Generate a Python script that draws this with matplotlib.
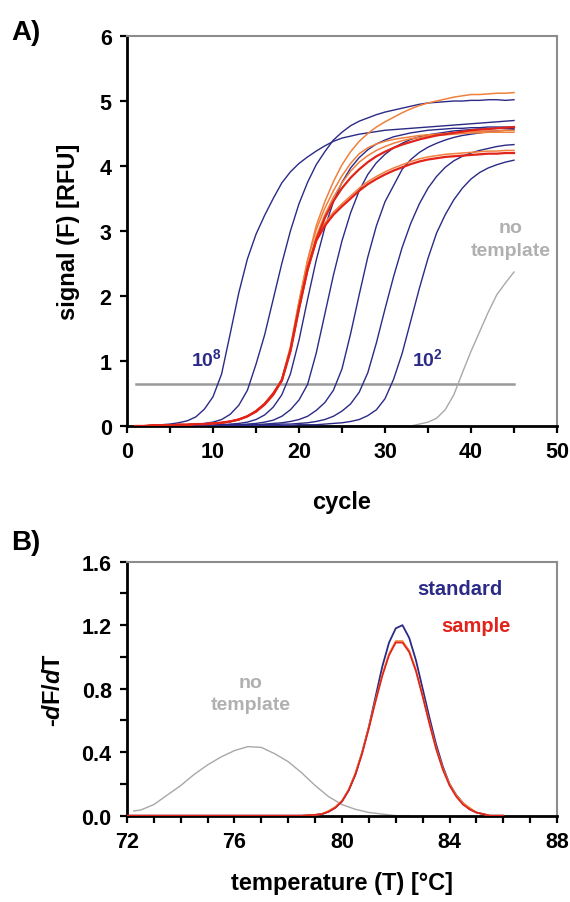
import matplotlib
matplotlib.use("Agg")
import matplotlib.pyplot as plt
from matplotlib.ticker import MultipleLocator, FixedLocator

plt.rcParams["font.family"] = ["Liberation Sans", "DejaVu Sans"]
plt.rcParams["font.weight"] = "bold"
plt.rcParams["mathtext.fontset"] = "custom"
plt.rcParams["mathtext.rm"] = "Liberation Sans:bold"
plt.rcParams["mathtext.it"] = "Liberation Sans:bold:italic"
plt.rcParams["mathtext.bf"] = "Liberation Sans:bold"

# =========================
# DATOS - A) amplificación
# =========================
ciclos = list(range(1, 46))

std_1e8 = [0.00, 0.00, 0.01, 0.02, 0.03, 0.05, 0.08, 0.14, 0.26, 0.45,
           0.80, 1.42, 2.05, 2.57, 2.95, 3.24, 3.50, 3.74, 3.91, 4.04,
           4.14, 4.23, 4.31, 4.38, 4.43, 4.46, 4.49, 4.51, 4.53, 4.55,
           4.56, 4.57, 4.58, 4.59, 4.60, 4.61, 4.62, 4.63, 4.64, 4.65,
           4.66, 4.67, 4.68, 4.69, 4.70]
std_1e7 = [0.00, 0.00, 0.00, 0.01, 0.01, 0.02, 0.02, 0.03, 0.04, 0.06,
           0.10, 0.18, 0.32, 0.55, 0.95, 1.40, 1.95, 2.50, 3.00, 3.42,
           3.75, 4.02, 4.22, 4.40, 4.52, 4.62, 4.69, 4.74, 4.79, 4.83,
           4.86, 4.89, 4.92, 4.95, 4.97, 4.98, 4.99, 5.00, 5.00, 5.01,
           5.01, 5.02, 5.02, 5.01, 5.02]
std_1e6 = [0.00, 0.00, 0.00, 0.00, 0.00, 0.01, 0.01, 0.01, 0.01, 0.02,
           0.02, 0.03, 0.04, 0.06, 0.10, 0.17, 0.29, 0.48, 0.80, 1.32,
           1.95, 2.55, 3.05, 3.45, 3.75, 3.97, 4.13, 4.25, 4.34, 4.40,
           4.45, 4.48, 4.51, 4.53, 4.55, 4.56, 4.57, 4.58, 4.58, 4.59,
           4.59, 4.60, 4.60, 4.60, 4.60]
std_1e5 = [0.00, 0.00, 0.00, 0.00, 0.00, 0.00, 0.01, 0.01, 0.01, 0.01,
           0.01, 0.02, 0.02, 0.03, 0.04, 0.06, 0.09, 0.15, 0.25, 0.40,
           0.64, 1.12, 1.72, 2.32, 2.85, 3.28, 3.62, 3.87, 4.05, 4.18,
           4.28, 4.35, 4.41, 4.45, 4.48, 4.50, 4.52, 4.54, 4.55, 4.56,
           4.57, 4.57, 4.58, 4.58, 4.58]
std_1e4 = [0.00, 0.00, 0.00, 0.00, 0.00, 0.00, 0.01, 0.01, 0.01, 0.01,
           0.01, 0.01, 0.01, 0.02, 0.02, 0.03, 0.04, 0.05, 0.07, 0.10,
           0.15, 0.24, 0.36, 0.55, 0.88, 1.42, 2.02, 2.60, 3.08, 3.45,
           3.70, 3.95, 4.10, 4.21, 4.29, 4.35, 4.40, 4.44, 4.47, 4.49,
           4.51, 4.53, 4.54, 4.55, 4.56]
std_1e3 = [0.00, 0.00, 0.00, 0.00, 0.00, 0.00, 0.00, 0.00, 0.01, 0.01,
           0.01, 0.01, 0.01, 0.01, 0.01, 0.02, 0.02, 0.03, 0.03, 0.04,
           0.05, 0.07, 0.10, 0.15, 0.23, 0.34, 0.52, 0.82, 1.28, 1.80,
           2.30, 2.75, 3.12, 3.42, 3.66, 3.84, 3.98, 4.08, 4.15, 4.20,
           4.24, 4.27, 4.30, 4.32, 4.33]
std_1e2 = [0.00, 0.00, 0.00, 0.00, 0.00, 0.00, 0.00, 0.00, 0.00, 0.00,
           0.01, 0.01, 0.01, 0.01, 0.01, 0.01, 0.01, 0.01, 0.01, 0.02,
           0.02, 0.02, 0.03, 0.04, 0.05, 0.07, 0.10, 0.16, 0.25, 0.42,
           0.72, 1.12, 1.62, 2.12, 2.58, 2.97, 3.25, 3.48, 3.66, 3.80,
           3.90, 3.97, 4.02, 4.06, 4.09]

muestra_1 = [0.00, 0.00, 0.01, 0.01, 0.01, 0.02, 0.02, 0.03, 0.03, 0.04,
             0.05, 0.07, 0.10, 0.15, 0.23, 0.35, 0.50, 0.72, 1.20, 1.90,
             2.55, 3.08, 3.45, 3.76, 4.02, 4.22, 4.38, 4.50, 4.60, 4.68,
             4.75, 4.82, 4.88, 4.93, 4.97, 5.00, 5.03, 5.06, 5.08, 5.10,
             5.10, 5.11, 5.12, 5.12, 5.13]
muestra_2 = [0.00, 0.00, 0.01, 0.01, 0.01, 0.02, 0.02, 0.03, 0.03, 0.04,
             0.05, 0.07, 0.10, 0.15, 0.23, 0.34, 0.50, 0.72, 1.22, 1.92,
             2.55, 3.02, 3.35, 3.62, 3.85, 4.04, 4.19, 4.28, 4.34, 4.38,
             4.41, 4.43, 4.45, 4.47, 4.48, 4.49, 4.50, 4.51, 4.52, 4.53,
             4.53, 4.54, 4.54, 4.55, 4.55]
muestra_3 = [0.00, 0.00, 0.01, 0.01, 0.01, 0.02, 0.02, 0.03, 0.03, 0.04,
             0.05, 0.07, 0.10, 0.15, 0.22, 0.33, 0.48, 0.70, 1.18, 1.85,
             2.45, 2.92, 3.25, 3.52, 3.74, 3.92, 4.06, 4.16, 4.24, 4.30,
             4.35, 4.39, 4.42, 4.44, 4.46, 4.47, 4.48, 4.49, 4.50, 4.51,
             4.51, 4.52, 4.52, 4.52, 4.52]
muestra_4 = [0.00, 0.00, 0.01, 0.01, 0.01, 0.02, 0.02, 0.03, 0.03, 0.04,
             0.05, 0.07, 0.10, 0.15, 0.22, 0.33, 0.48, 0.70, 1.16, 1.82,
             2.40, 2.86, 3.20, 3.46, 3.66, 3.82, 3.95, 4.06, 4.15, 4.22,
             4.28, 4.33, 4.37, 4.41, 4.44, 4.47, 4.49, 4.51, 4.53, 4.55,
             4.56, 4.57, 4.58, 4.59, 4.60]
muestra_5 = [0.00, 0.00, 0.01, 0.01, 0.01, 0.02, 0.02, 0.03, 0.03, 0.04,
             0.05, 0.07, 0.10, 0.15, 0.23, 0.34, 0.50, 0.70, 1.15, 1.80,
             2.42, 2.85, 3.08, 3.25, 3.38, 3.50, 3.62, 3.72, 3.80, 3.87,
             3.93, 3.98, 4.03, 4.07, 4.10, 4.12, 4.14, 4.15, 4.16, 4.17,
             4.18, 4.19, 4.19, 4.20, 4.20]
muestra_6 = [0.00, 0.00, 0.01, 0.01, 0.01, 0.02, 0.02, 0.03, 0.03, 0.04,
             0.05, 0.07, 0.10, 0.15, 0.23, 0.34, 0.50, 0.71, 1.17, 1.83,
             2.45, 2.88, 3.12, 3.29, 3.42, 3.54, 3.66, 3.76, 3.84, 3.91,
             3.97, 4.02, 4.07, 4.11, 4.14, 4.16, 4.18, 4.19, 4.20, 4.21,
             4.22, 4.23, 4.23, 4.24, 4.24]

ciclos_ntc = [1, 10, 20, 30, 33, 34, 35, 36, 37, 38, 39, 40, 41, 42, 43, 44, 45]
sin_molde_A = [0.00, 0.00, 0.00, 0.00, 0.00, 0.03, 0.06, 0.12, 0.25, 0.48,
               0.82, 1.15, 1.45, 1.75, 2.02, 2.20, 2.37]

umbral = 0.64

# =========================
# DATOS - B) curva de fusión
# =========================
temp_pico = [72.0, 78.0, 78.5, 79.0, 79.25, 79.5, 79.75, 80.0, 80.25, 80.5,
             80.75, 81.0, 81.25, 81.5, 81.75, 82.0, 82.25, 82.5, 82.75, 83.0,
             83.25, 83.5, 83.75, 84.0, 84.25, 84.5, 84.75, 85.0, 85.25, 85.5,
             86.0]
estandar_B = [0.0, 0.0, 0.0, 0.005, 0.01, 0.025, 0.05, 0.09, 0.16, 0.26,
              0.40, 0.56, 0.75, 0.94, 1.09, 1.18, 1.20, 1.12, 0.98, 0.80,
              0.62, 0.45, 0.31, 0.20, 0.13, 0.08, 0.04, 0.02, 0.01, 0.0,
              0.0]
muestra_B1 = [0.0, 0.0, 0.0, 0.005, 0.01, 0.025, 0.05, 0.09, 0.16, 0.26,
              0.39, 0.55, 0.72, 0.88, 1.01, 1.09, 1.09, 1.03, 0.91, 0.75,
              0.58, 0.42, 0.29, 0.19, 0.12, 0.07, 0.04, 0.02, 0.01, 0.0,
              0.0]
muestra_B2 = [0.0, 0.0, 0.0, 0.005, 0.01, 0.03, 0.055, 0.095, 0.165, 0.27,
              0.40, 0.56, 0.73, 0.89, 1.02, 1.10, 1.10, 1.04, 0.92, 0.76,
              0.59, 0.43, 0.30, 0.20, 0.13, 0.08, 0.05, 0.02, 0.01, 0.0,
              0.0]

temp_ntc = [72.25, 72.5, 73.0, 73.5, 74.0, 74.5, 75.0, 75.5, 76.0, 76.5,
            77.0, 77.5, 78.0, 78.5, 79.0, 79.5, 80.0, 80.5, 81.0, 81.5,
            82.0, 82.5]
sin_molde_B = [0.03, 0.035, 0.07, 0.13, 0.19, 0.26, 0.32, 0.37, 0.41, 0.435,
               0.43, 0.39, 0.34, 0.27, 0.19, 0.12, 0.07, 0.04, 0.02, 0.01,
               0.0, 0.0]

# =========================
# COLORES
# =========================
azul = "#2B2A86"
rojo = "#E2231A"
naranja = "#F0803C"
gris = "#A8A8A8"

fig = plt.figure(figsize=(5.70, 9.03), dpi=100)
axA = fig.add_axes([0.2228, 0.5271, 0.7544, 0.4319])
axB = fig.add_axes([0.2228, 0.0956, 0.7544, 0.2813])


def estilo_ejes(ax):
    for lado in ["left", "bottom"]:
        ax.spines[lado].set_linewidth(2.0)
        ax.spines[lado].set_color("black")
    for lado in ["top", "right"]:
        ax.spines[lado].set_linewidth(1.5)
        ax.spines[lado].set_color("#8C8C8C")
    ax.tick_params(which="both", direction="out", length=5, width=1.6,
                   labelsize=15.5, pad=6, top=False, right=False)
    for lab in ax.get_xticklabels() + ax.get_yticklabels():
        lab.set_fontweight("bold")


# ---------- A ----------
axA.plot([1, 45], [umbral, umbral], color="#9A9A9A", lw=1.8, zorder=1)
axA.plot(ciclos_ntc, sin_molde_A, color=gris, lw=1.0, zorder=2)

for serie in [std_1e8, std_1e7, std_1e6, std_1e5, std_1e4, std_1e3, std_1e2]:
    axA.plot(ciclos, serie, color=azul, lw=1.0, zorder=3)

for serie in [muestra_1, muestra_2, muestra_3, muestra_6]:
    axA.plot(ciclos, serie, color=naranja, lw=1.1, zorder=4)
for serie in [muestra_4, muestra_5]:
    axA.plot(ciclos, serie, color=rojo, lw=1.6, zorder=5)

axA.set_xlim(0, 50)
axA.set_ylim(0, 6)
axA.xaxis.set_major_locator(MultipleLocator(10))
axA.xaxis.set_minor_locator(FixedLocator([5, 15, 25, 35, 45]))
axA.yaxis.set_major_locator(MultipleLocator(1))
estilo_ejes(axA)
axA.set_xlabel("cycle", fontsize=17, fontweight="bold", labelpad=20)
axA.set_ylabel("signal (F) [RFU]", fontsize=17, fontweight="bold", labelpad=14)

axA.text(9.3, 1.04, r"10$^{8}$", color=azul, fontsize=14, fontweight="bold",
         ha="center", va="center")
axA.text(34.9, 1.04, r"10$^{2}$", color=azul, fontsize=14, fontweight="bold",
         ha="center", va="center")
axA.text(44.6, 2.88, "no\ntemplate", color="#B0B0B0", fontsize=14,
         fontweight="bold", ha="center", va="center", linespacing=1.45)

# ---------- B ----------
axB.plot(temp_ntc, sin_molde_B, color=gris, lw=1.0, zorder=2)
axB.plot(temp_pico, estandar_B, color=azul, lw=1.3, zorder=3)
axB.plot(temp_pico, muestra_B2, color=naranja, lw=1.2, zorder=4)
axB.plot(temp_pico, muestra_B1, color=rojo, lw=1.2, zorder=5)

axB.set_xlim(72, 88)
axB.set_ylim(0, 1.6)
axB.xaxis.set_major_locator(MultipleLocator(4))
axB.xaxis.set_minor_locator(MultipleLocator(1))
axB.yaxis.set_major_locator(MultipleLocator(0.4))
axB.yaxis.set_minor_locator(MultipleLocator(0.2))
axB.yaxis.set_major_formatter(plt.FormatStrFormatter("%.1f"))
estilo_ejes(axB)
axB.set_xlabel("temperature (T) [°C]", fontsize=17, fontweight="bold", labelpad=14)
axB.set_ylabel(r"-$\mathit{d}$F/$\mathit{d}$T", fontsize=17, fontweight="bold",
               labelpad=12)

axB.text(84.4, 1.43, "standard", color=azul, fontsize=14.5, fontweight="bold",
         ha="center", va="center")
axB.text(85.0, 1.20, "sample", color=rojo, fontsize=14.5, fontweight="bold",
         ha="center", va="center")
axB.text(76.6, 0.77, "no\ntemplate", color="#B0B0B0", fontsize=14,
         fontweight="bold", ha="center", va="center", linespacing=1.45)

fig.text(0.02, 0.964, "A)", fontsize=20, fontweight="bold", va="center")
fig.text(0.02, 0.399, "B)", fontsize=20, fontweight="bold", va="center")

fig.savefig("out.png", dpi=100)
